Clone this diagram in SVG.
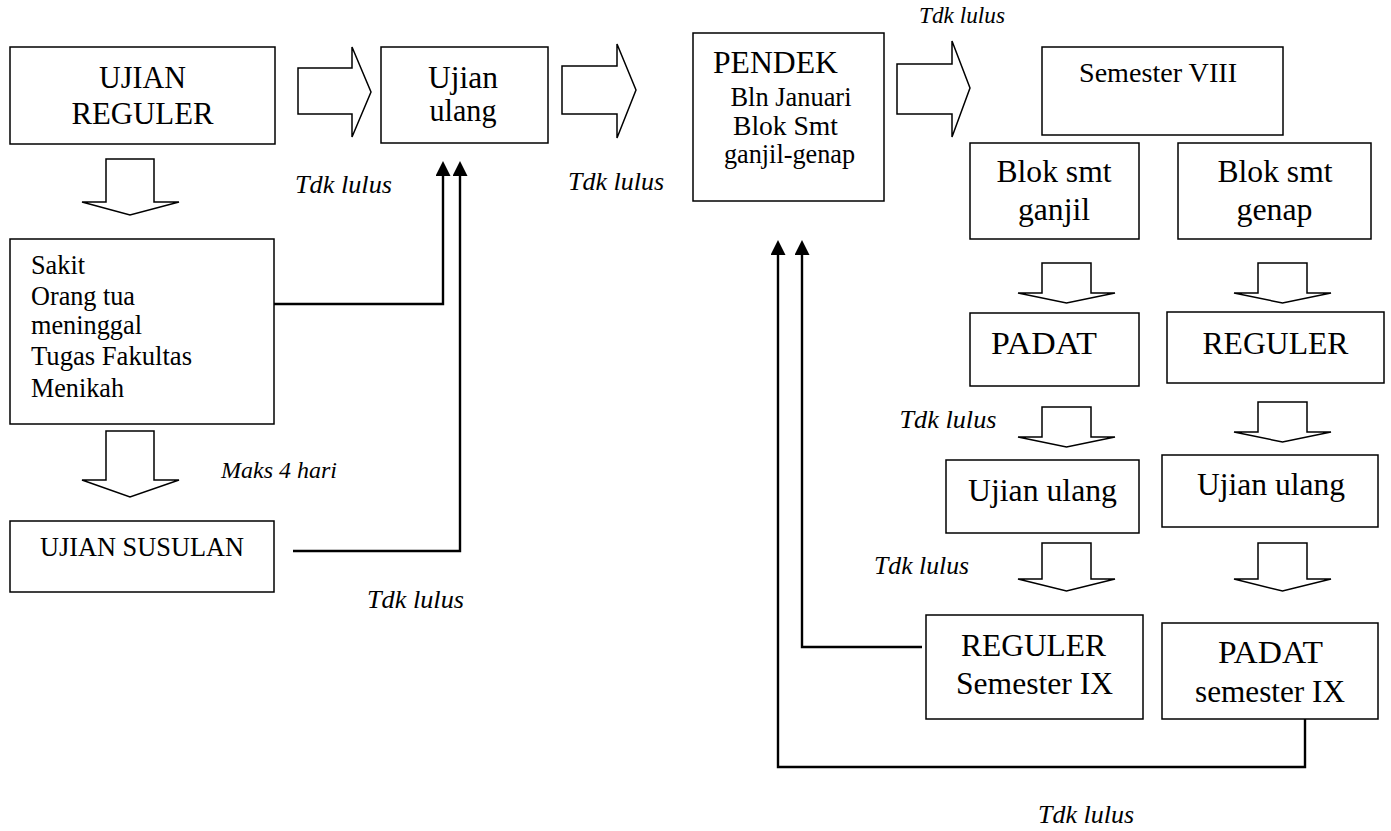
<svg xmlns="http://www.w3.org/2000/svg" width="1391" height="831" viewBox="0 0 1391 831">
<defs>
<style>
.box{fill:#fff;stroke:#000;stroke-width:1.5}
.blk{fill:#fff;stroke:#000;stroke-width:1.5;stroke-linejoin:miter}
.ln{fill:none;stroke:#000;stroke-width:2.4}
.t{font-family:'Liberation Serif','Times New Roman',Times,serif;fill:#000}
.c{text-anchor:middle}
.it{font-style:italic;font-size:25.5px}
.big{font-size:30.5px}
.med{font-size:26.5px}
.lg{font-size:31.5px}
</style>
<marker id="ah" viewBox="0 -7.5 15 15" markerWidth="15" markerHeight="15" refX="0" refY="0" orient="auto" markerUnits="userSpaceOnUse">
<path d="M0,-7.5 L15,0 L0,7.5 z" fill="#000"/>
</marker>
</defs>
<rect width="1391" height="831" fill="#fff"/>

<g id="connectors" font-family="Liberation Serif, Times New Roman, serif">
<path class="ln" d="M274,304 H443 V176" marker-end="url(#ah)"/>
<path class="ln" d="M293,551 H460 V176" marker-end="url(#ah)"/>
<path class="ln" d="M922,647 H802 V255" marker-end="url(#ah)"/>
<path class="ln" d="M1305,719 V767 H778 V255" marker-end="url(#ah)"/>
<polygon class="blk" points="298,68 352,68 352,47 371,92 352,137 352,114 298,114"/>
<polygon class="blk" points="562,66 617,66 617,44 636,90 617,138 617,114 562,114"/>
<polygon class="blk" points="897,64 952,64 952,41 970,88 952,137 952,114 897,114"/>
<polygon class="blk" points="106,159 154,159 154,202 179,202 130,215 82,202 106,202"/>
<polygon class="blk" points="106,431 154,431 154,480 179,480 130,497 82,480 106,480"/>
<polygon class="blk" points="1042,263 1091,263 1091,293 1115,293 1066.5,303 1018,293 1042,293"/>
<polygon class="blk" points="1258,263 1307,263 1307,293 1331,293 1282.5,303 1234,293 1258,293"/>
<polygon class="blk" points="1042,407 1091,407 1091,437 1115,437 1066.5,447 1018,437 1042,437"/>
<polygon class="blk" points="1258,402 1307,402 1307,432 1331,432 1282.5,442 1234,432 1258,432"/>
<polygon class="blk" points="1042,543 1091,543 1091,579 1115,579 1066.5,591 1018,579 1042,579"/>
<polygon class="blk" points="1258,543 1307,543 1307,579 1331,579 1282.5,591 1234,579 1258,579"/>
<text class="t c it" x="343.5" y="193" textLength="97" lengthAdjust="spacingAndGlyphs">Tdk lulus</text>
<text class="t c it" x="616" y="190" textLength="96" lengthAdjust="spacingAndGlyphs">Tdk lulus</text>
<text class="t c it" x="962" y="23" textLength="86" lengthAdjust="spacingAndGlyphs" style="font-size:23px">Tdk lulus</text>
<text class="t c it" x="948" y="428" textLength="97" lengthAdjust="spacingAndGlyphs">Tdk lulus</text>
<text class="t c it" x="921.5" y="574" textLength="95" lengthAdjust="spacingAndGlyphs">Tdk lulus</text>
<text class="t c it" x="1086" y="823" textLength="96" lengthAdjust="spacingAndGlyphs">Tdk lulus</text>
<text class="t c it" x="415.5" y="608" textLength="97" lengthAdjust="spacingAndGlyphs">Tdk lulus</text>
<text class="t it" x="221" y="478" textLength="116" lengthAdjust="spacingAndGlyphs" style="font-size:24px">Maks 4 hari</text>
</g>

<g id="ujian-reguler" font-family="Liberation Serif, Times New Roman, serif">
<rect class="box" x="10" y="47" width="265" height="97"/>
<text class="t c big" x="142.5" y="88" textLength="87" lengthAdjust="spacingAndGlyphs">UJIAN</text>
<text class="t c big" x="142.5" y="124" textLength="142" lengthAdjust="spacingAndGlyphs">REGULER</text>
</g>

<g id="ujian-ulang-top" font-family="Liberation Serif, Times New Roman, serif">
<rect class="box" x="381" y="47" width="167" height="96"/>
<text class="t c big" x="463" y="88" textLength="70" lengthAdjust="spacingAndGlyphs">Ujian</text>
<text class="t c big" x="463" y="121" textLength="67" lengthAdjust="spacingAndGlyphs">ulang</text>
</g>

<g id="pendek" font-family="Liberation Serif, Times New Roman, serif">
<rect class="box" x="693" y="33" width="191" height="168"/>
<text class="t c lg" x="775.5" y="73" textLength="125" lengthAdjust="spacingAndGlyphs">PENDEK</text>
<text class="t c med" x="791" y="106" textLength="121" lengthAdjust="spacingAndGlyphs">Bln Januari</text>
<text class="t c med" x="785.5" y="135" textLength="105" lengthAdjust="spacingAndGlyphs">Blok Smt</text>
<text class="t c med" x="789.5" y="163" textLength="131" lengthAdjust="spacingAndGlyphs">ganjil-genap</text>
</g>

<g id="semester-viii" font-family="Liberation Serif, Times New Roman, serif">
<rect class="box" x="1042" y="47" width="241" height="88"/>
<text class="t c" x="1158" y="82" textLength="158" lengthAdjust="spacingAndGlyphs" style="font-size:27.5px">Semester VIII</text>
</g>

<g id="blok-ganjil" font-family="Liberation Serif, Times New Roman, serif">
<rect class="box" x="970" y="143" width="169" height="96"/>
<text class="t c lg" x="1054" y="182" textLength="115" lengthAdjust="spacingAndGlyphs">Blok smt</text>
<text class="t c lg" x="1054" y="220" textLength="72" lengthAdjust="spacingAndGlyphs">ganjil</text>
</g>

<g id="blok-genap" font-family="Liberation Serif, Times New Roman, serif">
<rect class="box" x="1178" y="143" width="193" height="96"/>
<text class="t c lg" x="1275" y="182" textLength="115" lengthAdjust="spacingAndGlyphs">Blok smt</text>
<text class="t c lg" x="1274.5" y="220" textLength="76" lengthAdjust="spacingAndGlyphs">genap</text>
</g>

<g id="padat" font-family="Liberation Serif, Times New Roman, serif">
<rect class="box" x="970" y="313" width="169" height="73"/>
<text class="t c lg" x="1044" y="354" textLength="106" lengthAdjust="spacingAndGlyphs">PADAT</text>
</g>

<g id="reguler" font-family="Liberation Serif, Times New Roman, serif">
<rect class="box" x="1167" y="312" width="217" height="71"/>
<text class="t c lg" x="1275.5" y="354" textLength="146" lengthAdjust="spacingAndGlyphs">REGULER</text>
</g>

<g id="ujian-ulang-left" font-family="Liberation Serif, Times New Roman, serif">
<rect class="box" x="946" y="460" width="193" height="73"/>
<text class="t c lg" x="1042.5" y="501" textLength="149" lengthAdjust="spacingAndGlyphs">Ujian ulang</text>
</g>

<g id="ujian-ulang-right" font-family="Liberation Serif, Times New Roman, serif">
<rect class="box" x="1162" y="455" width="216" height="72"/>
<text class="t c lg" x="1271" y="495" textLength="148" lengthAdjust="spacingAndGlyphs">Ujian ulang</text>
</g>

<g id="reguler-ix" font-family="Liberation Serif, Times New Roman, serif">
<rect class="box" x="926" y="615" width="217" height="104"/>
<text class="t c lg" x="1033.5" y="656" textLength="145" lengthAdjust="spacingAndGlyphs">REGULER</text>
<text class="t c lg" x="1034.5" y="694" textLength="157" lengthAdjust="spacingAndGlyphs">Semester IX</text>
</g>

<g id="padat-ix" font-family="Liberation Serif, Times New Roman, serif">
<rect class="box" x="1162" y="623" width="216" height="96"/>
<text class="t c lg" x="1270.5" y="663" textLength="105" lengthAdjust="spacingAndGlyphs">PADAT</text>
<text class="t c lg" x="1270" y="702" textLength="150" lengthAdjust="spacingAndGlyphs">semester IX</text>
</g>

<g id="alasan" font-family="Liberation Serif, Times New Roman, serif">
<rect class="box" x="10" y="239" width="264" height="185"/>
<text class="t med" x="31" y="274" textLength="54" lengthAdjust="spacingAndGlyphs">Sakit</text>
<text class="t med" x="31" y="305" textLength="104" lengthAdjust="spacingAndGlyphs">Orang tua</text>
<text class="t med" x="31" y="334" textLength="111" lengthAdjust="spacingAndGlyphs">meninggal</text>
<text class="t med" x="31" y="365" textLength="161" lengthAdjust="spacingAndGlyphs">Tugas Fakultas</text>
<text class="t med" x="31" y="397" textLength="93" lengthAdjust="spacingAndGlyphs">Menikah</text>
</g>

<g id="ujian-susulan" font-family="Liberation Serif, Times New Roman, serif">
<rect class="box" x="10" y="521" width="264" height="71"/>
<text class="t c med" x="142" y="556" textLength="204" lengthAdjust="spacingAndGlyphs">UJIAN SUSULAN</text>
</g>
</svg>
